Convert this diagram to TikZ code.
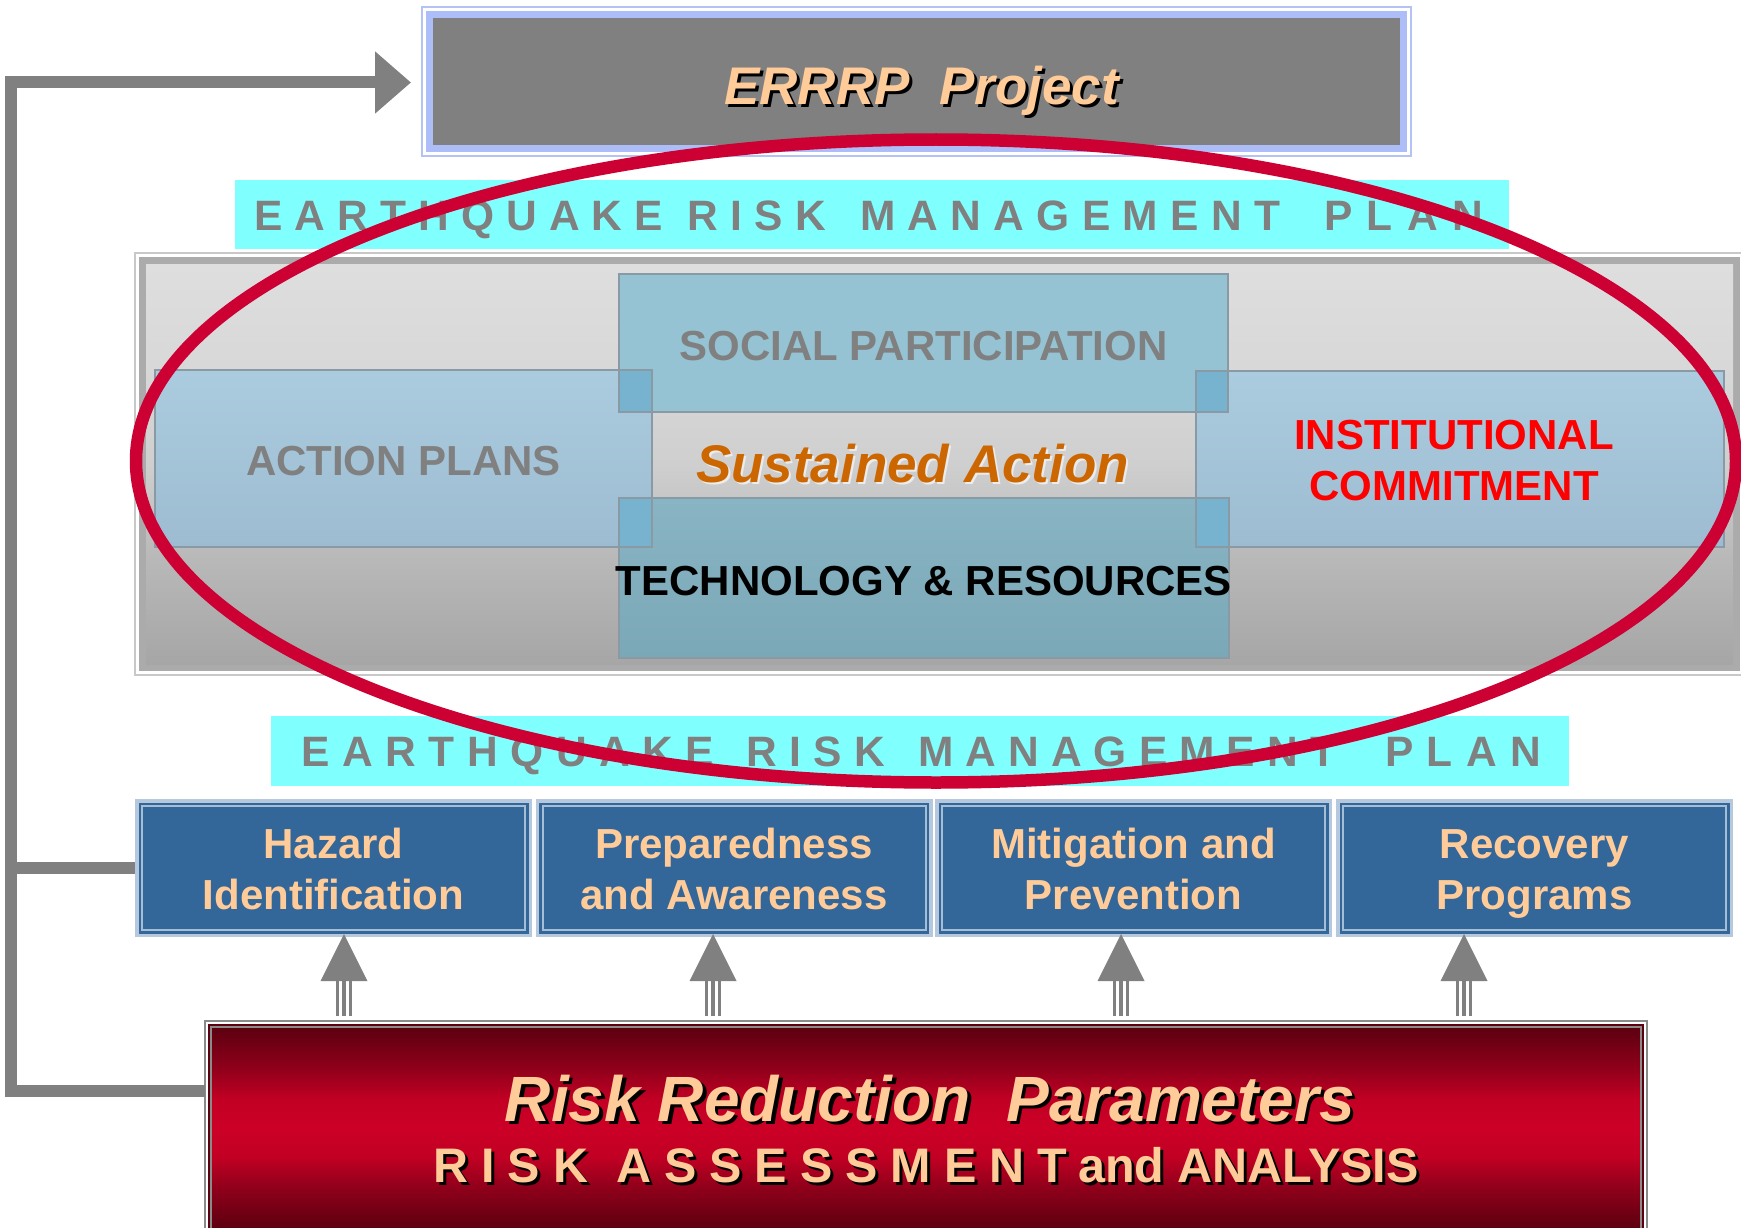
\documentclass[tikz,border=0pt]{standalone}
\usepackage{fontspec}
\setmainfont{Liberation Sans}
\usetikzlibrary{arrows.meta,calc}

\definecolor{conn}{HTML}{808080}
\definecolor{cyanb}{HTML}{80FFFF}
\definecolor{errline}{HTML}{B4C2F4}
\definecolor{errband}{HTML}{ADBDF7}
\definecolor{errgray}{HTML}{808080}
\definecolor{lorange}{HTML}{FFCC99}
\definecolor{bglight}{HTML}{C8C8C8}
\definecolor{bgframe}{HTML}{ABABAB}
\definecolor{bgt}{HTML}{DEDEDE}
\definecolor{bgone}{HTML}{D8D8D8}
\definecolor{bgtwo}{HTML}{CFCFCF}
\definecolor{bgthree}{HTML}{B8B8B8}
\definecolor{bgb}{HTML}{A6A6A6}
\definecolor{inborder}{HTML}{8A9AA4}
\definecolor{socialc}{HTML}{95C3D3}
\definecolor{actT}{HTML}{ABCBDF}
\definecolor{actB}{HTML}{9DBCD1}
\definecolor{techT}{HTML}{88B4C3}
\definecolor{techB}{HTML}{7BA8B7}
\definecolor{ovl}{HTML}{77B2CE}
\definecolor{instred}{HTML}{FF0000}
\definecolor{sustc}{HTML}{CC6600}
\definecolor{bbox}{HTML}{336699}
\definecolor{bframe}{HTML}{B6C8DD}
\definecolor{bframetwo}{HTML}{A6BDD6}
\definecolor{rrpgray}{HTML}{8A8A8A}
\definecolor{rdark}{HTML}{5C0010}
\definecolor{rmid}{HTML}{8E001A}
\definecolor{rhi}{HTML}{C20024}
\definecolor{rtop}{HTML}{CC0026}
\definecolor{ellc}{HTML}{CC0033}

\pgfdeclareverticalshading{bigsh}{100bp}{color(0bp)=(bgb); color(25bp)=(bgb); color(38bp)=(bgthree); color(50bp)=(bgtwo); color(62bp)=(bgone); color(75bp)=(bgt); color(100bp)=(bgt)}
\pgfdeclareverticalshading{redsh}{100bp}{color(0bp)=(rdark); color(25bp)=(rdark); color(35bp)=(rmid); color(43bp)=(rhi); color(50bp)=(rtop); color(57bp)=(rhi); color(65bp)=(rmid); color(75bp)=(rdark); color(100bp)=(rdark)}

\newcommand\shadowed[3]{\makebox[0pt][l]{\hspace{#2}\raisebox{-#2}{\color{#1}#3}}#3}
\newcommand\bst{\rule[-9pt]{0pt}{49pt}}

\begin{document}
\begin{tikzpicture}[x=1pt,y=-1pt,
  connline/.style={draw=conn, line width=12pt, line join=miter},
  band/.style={fill=cyanb, inner sep=0pt, outer sep=0pt},
  bandtxt/.style={text=conn, inner sep=0pt, font={\fontsize{42.5pt}{50pt}\selectfont\bfseries}},
  inbox/.style={draw=inborder, line width=1.2pt, inner sep=0pt, outer sep=0pt,
     font={\fontsize{42pt}{51pt}\selectfont\bfseries}},
  onel/.style={text height=34pt, text depth=0pt},
  bluebox/.style={minimum width=397pt, minimum height=138pt, inner sep=0pt, outer sep=0pt,
     fill=bframe, text=lorange, align=center,
     font={\fontsize{42pt}{51pt}\selectfont\bfseries},
     path picture={
       \fill[bbox] ($(path picture bounding box.north west)+(3.5,3.5)$) rectangle ($(path picture bounding box.south east)+(-3.5,-3.5)$);
       \draw[bframetwo, line width=2pt] ($(path picture bounding box.north west)+(7,7)$) rectangle ($(path picture bounding box.south east)+(-7,-7)$);
     }},
  shaft/.style={draw=conn, line width=16pt, postaction={draw=white, line width=10pt}, postaction={draw=conn, line width=4pt}},
]
\useasboundingbox (0,0) rectangle (1741,1228);
\clip (0,0) rectangle (1741,1228);

% ERRRP project box
\node[minimum width=989pt, minimum height=149pt, inner sep=0pt, outer sep=0pt, fill=white, draw=errline, line width=1.5pt,
  path picture={
    \fill[errband] ($(path picture bounding box.north west)+(4,4)$) rectangle ($(path picture bounding box.south east)+(-4,-4)$);
    \fill[errgray] ($(path picture bounding box.north west)+(11,11)$) rectangle ($(path picture bounding box.south east)+(-11,-11)$);
  }] (errrp) at (916.5,81.5) {};
\node[anchor=base, inner sep=0pt, text=lorange, font={\fontsize{53pt}{60pt}\selectfont\bfseries\itshape}] (errtxt) at (921.5,105)
  {\shadowed{black}{3pt}{ERRRP\ \ Project}};

% upper band
\node[band, minimum width=1274pt, minimum height=69pt] (band1) at (872,214.5) {};
\node[bandtxt, anchor=base west] (bt1) at (254,230) {%
\makebox[409pt]{E\hfill A\hfill R\hfill T\hfill H\hfill Q\hfill U\hfill A\hfill K\hfill E}\hspace{24pt}%
\makebox[139pt]{R\hfill I\hfill S\hfill K}\hspace{34pt}%
\makebox[420pt]{M\hfill A\hfill N\hfill A\hfill G\hfill E\hfill M\hfill E\hfill N\hfill T}\hspace{44pt}%
\makebox[159pt]{P\hfill L\hfill A\hfill N}};

% big gray box
\node[minimum width=1609pt, minimum height=422pt, inner sep=0pt, outer sep=0pt, draw=bglight, line width=1.5pt,
  path picture={
    \fill[bgframe] ($(path picture bounding box.north west)+(4,4)$) rectangle ($(path picture bounding box.south east)+(-4,-4)$);
    \shade[shading=bigsh] ($(path picture bounding box.north west)+(11,11)$) rectangle ($(path picture bounding box.south east)+(-11,-11)$);
  }] (big) at (939.5,464) {};

% inner boxes
\node[inbox, onel, fill=socialc, text=conn, minimum width=609pt, minimum height=138pt] (social) at (923.5,343) {SOCIAL PARTICIPATION};
\node[inbox, onel, top color=actT, bottom color=actB, text=conn, minimum width=497pt, minimum height=177pt] (action) at (403.5,458.5) {ACTION PLANS};
\node[inbox, top color=actT, bottom color=actB, text=instred, align=center, minimum width=528pt, minimum height=176pt] (inst) at (1460,459)
  {\bst INSTITUTIONAL\hspace*{12pt}\\\bst COMMITMENT\hspace*{12pt}};
\node[inbox, onel, top color=techT, bottom color=techB, text=black, minimum width=610pt, minimum height=160pt] (tech) at (924,578)
  {\makebox[0pt]{TECHNOLOGY \& RESOURCES}};

% overlaps
\filldraw[fill=ovl, draw=inborder, line width=1.2pt] (social.west |- action.north) rectangle (action.east |- social.south);
\filldraw[fill=ovl, draw=inborder, line width=1.2pt] (tech.west |- tech.north) rectangle (action.east |- action.south);
\filldraw[fill=ovl, draw=inborder, line width=1.2pt] (inst.west |- inst.north) rectangle (social.east |- social.south);
\filldraw[fill=ovl, draw=inborder, line width=1.2pt] (inst.west |- tech.north) rectangle (tech.east |- inst.south);

\node[anchor=base, inner sep=0pt, text=sustc, font={\fontsize{53pt}{60pt}\selectfont\bfseries\itshape}] (sust) at (912.5,482)
  {\shadowed{white!85!gray}{2pt}{Sustained Action}};

% lower band
\node[band, minimum width=1298pt, minimum height=70pt] (band2) at (920,750.5) {};
\node[bandtxt, anchor=base west] (bt2) at (301,766) {%
\makebox[413pt]{E\hfill A\hfill R\hfill T\hfill H\hfill Q\hfill U\hfill A\hfill K\hfill E}\hspace{32pt}%
\makebox[139pt]{R\hfill I\hfill S\hfill K}\hspace{33pt}%
\makebox[418pt]{M\hfill A\hfill N\hfill A\hfill G\hfill E\hfill M\hfill E\hfill N\hfill T}\hspace{49pt}%
\makebox[156pt]{P\hfill L\hfill A\hfill N}};

% programme boxes
\node[bluebox] (hz) at (333.5,868) {\bst Hazard\\\bst Identification};
\node[bluebox] (pa) at (734,868) {\bst Preparedness\\\bst and Awareness};
\node[bluebox] (mp) at (1133.5,868) {\bst Mitigation and\\\bst Prevention};
\node[bluebox] (rp) at (1534.5,868) {\bst Recovery\\\bst Programs};

% risk reduction box
\node[minimum width=1442pt, minimum height=214pt, inner sep=0pt, outer sep=0pt, fill=white, draw=rrpgray, line width=2pt,
  path picture={
    \fill[rdark] ($(path picture bounding box.north west)+(3,3)$) rectangle ($(path picture bounding box.south east)+(-3,-3)$);
    \shade[shading=redsh] ($(path picture bounding box.north west)+(6,6)$) rectangle ($(path picture bounding box.south east)+(-6,-6)$);
    \draw[rrpgray, line width=2pt] ($(path picture bounding box.north west)+(6,6)$) rectangle ($(path picture bounding box.south east)+(-6,-6)$);
  }] (rrp) at (926,1128) {};
\node[anchor=base, inner sep=0pt, text=lorange, font={\fontsize{64pt}{70pt}\selectfont\bfseries\itshape}] (rrptxt) at (930,1121)
  {\shadowed{black}{3.5pt}{Risk Reduction\ \ Parameters}};
\node[anchor=base west, inner sep=0pt, text=lorange, font={\fontsize{48.5pt}{55pt}\selectfont\bfseries}] (rrpsub) at (433,1182)
  {\shadowed{black}{3pt}{\makebox[155pt]{R\hfill I\hfill S\hfill K}\hspace{28pt}\makebox[451pt]{A\hfill S\hfill S\hfill E\hfill S\hfill S\hfill M\hfill E\hfill N\hfill T}\hspace{11pt}and ANALYSIS}};

% up arrows
\foreach \n/\dx in {hz/10.5, pa/-21, mp/-12.5, rp/-70.5}{
  \coordinate (t\n) at ($(\n.south)+(\dx,-3)$);
  \draw[shaft] ($(t\n |- rrp.north)+(0,-5)$) -- ($(t\n)+(0,47)$);
  \fill[conn] ($(t\n)+(-23.5,47)$) -- ($(t\n)+(23.5,47)$) -- (t\n) -- cycle;
}

% feedback connector
\coordinate (jt) at (11,82.5);
\coordinate (jb) at (11,1091);
\draw[connline, -{Triangle[length=36pt,width=60pt]}, shorten >=11pt] (jb -| rrp.west) -- (jb) -- (jt) -- (jt -| errrp.west);
\draw[connline] (hz.west) -- (hz.west -| jt);

% red ellipse
\draw[draw=ellc, line width=12.5pt] (936,461) ellipse [x radius=800pt, y radius=321.5pt];
\end{tikzpicture}
\end{document}
